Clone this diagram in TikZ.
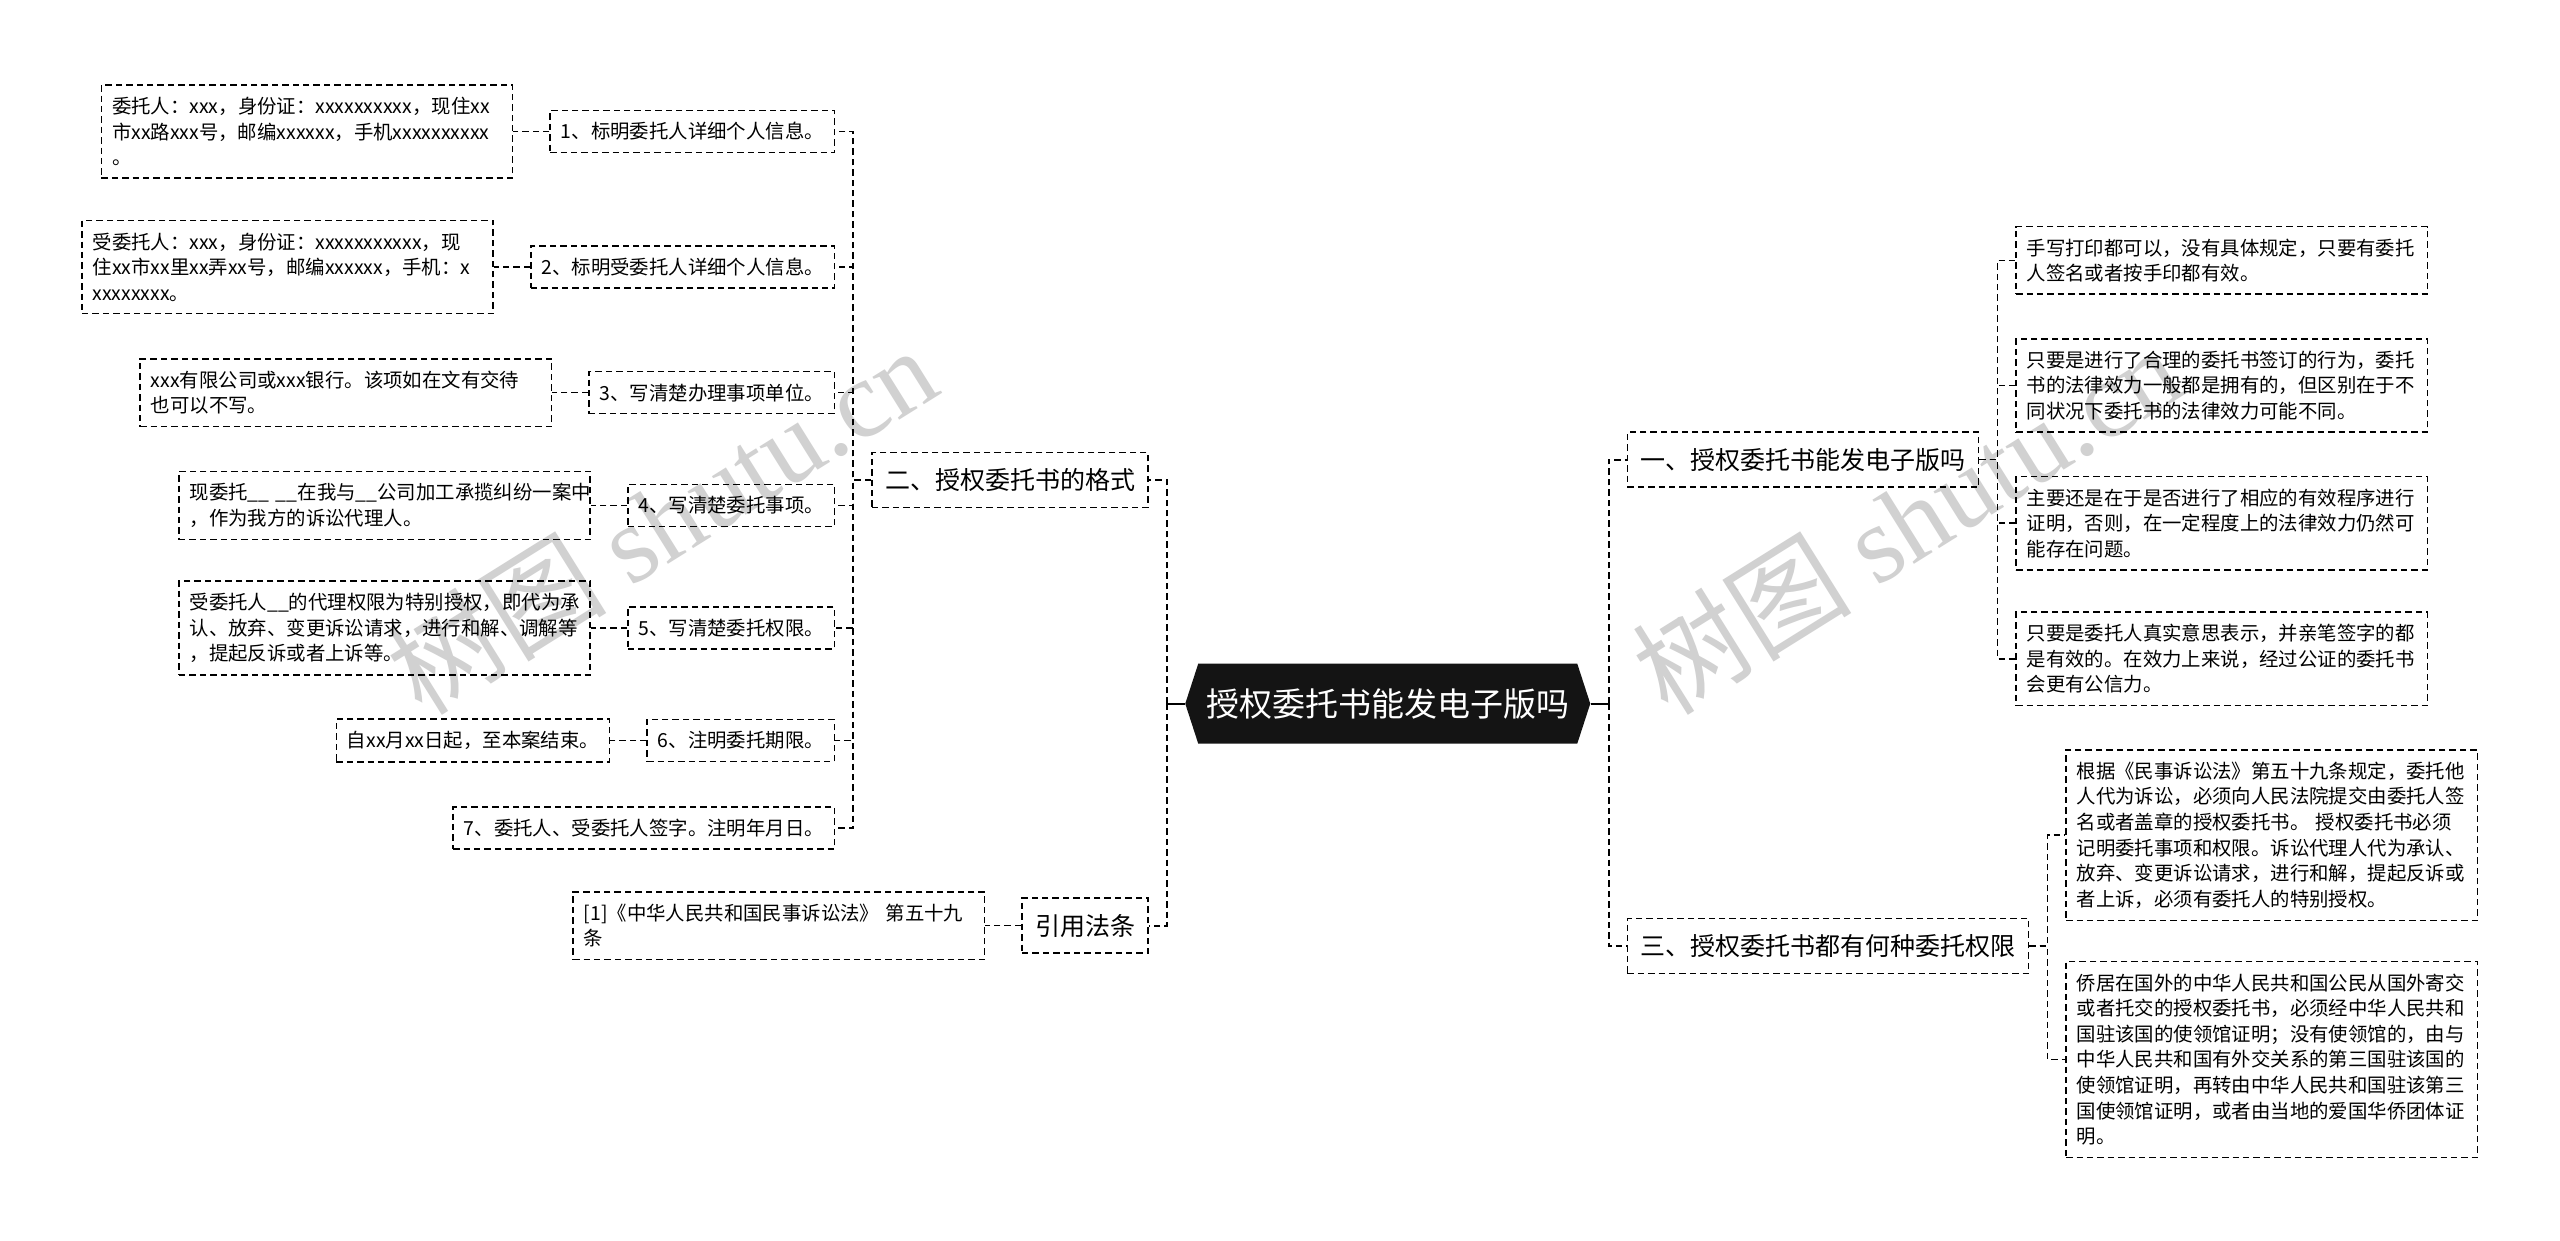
\documentclass[tikz,border=0pt]{standalone}
\usepackage{fontspec}
\setmainfont{Noto Sans CJK SC}
\newfontfamily\wmfont{Liberation Serif}
\usetikzlibrary{positioning, shapes.symbols}

\begin{document}
\begin{tikzpicture}[
    x=0.8163pt, y=-0.8163pt,
    node distance=18pt,
    rootnode/.style={shape=signal, signal to=west and east, signal pointer angle=144, fill=black!92, text=white, inner xsep=4pt, inner ysep=0pt, minimum height=40pt, font=\fontsize{16.5}{20}\selectfont},
    branch/.style={rectangle, draw, line width=0.8pt, dash pattern=on 3.2pt off 2pt, inner xsep=6.5pt, inner ysep=8pt, font=\fontsize{12.5}{15}\selectfont},
    leafbox/.style={rectangle, draw, line width=0.8pt, dash pattern=on 3.2pt off 2pt, inner xsep=5.3pt, inner ysep=6pt, align=left, font=\fontsize{9.7}{12.8}\selectfont},
    notebox/.style={leafbox, text width=195pt},
    link/.style={line width=0.8pt, dash pattern=on 3.2pt off 2pt},
    rootlink/.style={link, line width=1pt},
    wmark/.style={text=black!18, rotate=32, font=\fontsize{55}{55}\selectfont},
]
\fill[white] (0,0) rectangle (1568,760);
\useasboundingbox (0,0) rectangle (1568,760);

% watermarks
\node[wmark] (wm1) at (405,318) {树图 {\wmfont shutu.cn}};
\node[wmark] (wm2) at (1168,318) {树图 {\wmfont shutu.cn}};

% root
\node[rootnode] (root) at (850,431) {授权委托书能发电子版吗};

% left side
\node[branch, left=of root, yshift=111.8pt] (sec2) {二、授权委托书的格式};
\node[branch, left=of root, yshift=-111pt] (ref) {引用法条};
\node[notebox, left=of ref] (refl) {[1]《中华人民共和国民事诉讼法》 第五十九\\条};

\node[leafbox, left=of sec2, yshift=174.3pt] (p1) {1、标明委托人详细个人信息。};
\node[leafbox, left=of sec2, yshift=106.5pt] (p2) {2、标明受委托人详细个人信息。};
\node[leafbox, left=of sec2, yshift=43.7pt] (p3) {3、写清楚办理事项单位。};
\node[leafbox, left=of sec2, yshift=-12.7pt] (p4) {4、写清楚委托事项。};
\node[leafbox, left=of sec2, yshift=-73.9pt] (p5) {5、写清楚委托权限。};
\node[leafbox, left=of sec2, yshift=-130.2pt] (p6) {6、注明委托期限。};
\node[leafbox, left=of sec2, yshift=-173.9pt] (p7) {7、委托人、受委托人签字。注明年月日。};

\node[notebox, left=of p1] (l1) {委托人：xxx，身份证：xxxxxxxxxx，现住xx\\市xx路xxx号，邮编xxxxxx，手机xxxxxxxxxx\\。};
\node[notebox, left=of p2] (l2) {受委托人：xxx，身份证：xxxxxxxxxxx，现\\住xx市xx里xx弄xx号，邮编xxxxxx，手机：x\\xxxxxxxx。};
\node[notebox, left=of p3] (l3) {xxx有限公司或xxx银行。该项如在文有交待\\也可以不写。};
\node[notebox, left=of p4] (l4) {现委托\_\_~\_\_在我与\_\_公司加工承揽纠纷一案中\\，作为我方的诉讼代理人。};
\node[notebox, left=of p5] (l5) {受委托人\_\_的代理权限为特别授权，即代为承\\认、放弃、变更诉讼请求，进行和解、调解等\\，提起反诉或者上诉等。};
\node[leafbox, left=of p6] (l6) {自xx月xx日起，至本案结束。};

% right side
\node[branch, right=of root, yshift=122pt] (sec1) {一、授权委托书能发电子版吗};
\node[branch, right=of root, yshift=-121.2pt] (sec3) {三、授权委托书都有何种委托权限};

\node[notebox, right=of sec1, yshift=99.6pt] (r1) {手写打印都可以，没有具体规定，只要有委托\\人签名或者按手印都有效。};
\node[notebox, right=of sec1, yshift=37.1pt] (r2) {只要是进行了合理的委托书签订的行为，委托\\书的法律效力一般都是拥有的，但区别在于不\\同状况下委托书的法律效力可能不同。};
\node[notebox, right=of sec1, yshift=-31.8pt] (r3) {主要还是在于是否进行了相应的有效程序进行\\证明，否则，在一定程度上的法律效力仍然可\\能存在问题。};
\node[notebox, right=of sec1, yshift=-99.6pt] (r4) {只要是委托人真实意思表示，并亲笔签字的都\\是有效的。在效力上来说，经过公证的委托书\\会更有公信力。};
\node[notebox, right=of sec3, yshift=55.5pt] (r5) {根据《民事诉讼法》第五十九条规定，委托他\\人代为诉讼，必须向人民法院提交由委托人签\\名或者盖章的授权委托书。 授权委托书必须\\记明委托事项和权限。诉讼代理人代为承认、\\放弃、变更诉讼请求，进行和解，提起反诉或\\者上诉，必须有委托人的特别授权。};
\node[notebox, right=of sec3, yshift=-56.7pt] (r6) {侨居在国外的中华人民共和国公民从国外寄交\\或者托交的授权委托书，必须经中华人民共和\\国驻该国的使领馆证明；没有使领馆的，由与\\中华人民共和国有外交关系的第三国驻该国的\\使领馆证明，再转由中华人民共和国驻该第三\\国使领馆证明，或者由当地的爱国华侨团体证\\明。};

% connectors
\draw[line width=1pt] (root.west) -- ++(-9pt,0) coordinate (lt);
\draw[line width=1pt] (root.east) -- ++(9pt,0) coordinate (rt);
\foreach \n in {sec2, ref} \draw[rootlink] (lt) |- (\n.east);
\foreach \n in {sec1, sec3} \draw[rootlink] (rt) |- (\n.west);
\foreach \i in {1,...,7} \draw[link] (sec2.west) -- ++(-9pt,0) |- (p\i.east);
\foreach \i in {1,...,6} \draw[link] (p\i.west) -- (l\i.east);
\draw[link] (ref.west) -- (refl.east);
\foreach \i in {1,...,4} \draw[link] (sec1.east) -- ++(9pt,0) |- (r\i.west);
\foreach \i in {5,6} \draw[link] (sec3.east) -- ++(9pt,0) |- (r\i.west);
\end{tikzpicture}
\end{document}
